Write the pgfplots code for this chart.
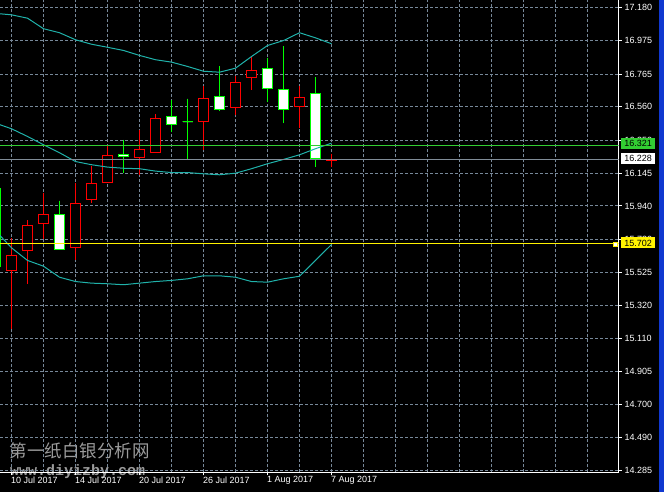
\documentclass[border=0pt]{standalone}
\usepackage{pgfplots}
\pgfplotsset{compat=1.18}
\usepgfplotslibrary{statistics}
\usepackage{fontspec}
\setmainfont{Liberation Sans}
\newfontfamily\cjk{Noto Sans CJK SC}
\newfontfamily\wmono{Liberation Mono}
\definecolor{gridc}{RGB}{119,136,153}
\definecolor{band}{RGB}{32,178,170}
\definecolor{bullc}{RGB}{255,0,0}
\definecolor{bearc}{RGB}{0,255,0}
\definecolor{lvlgreen}{RGB}{50,205,50}
\definecolor{lvlgray}{RGB}{128,140,152}
\definecolor{mtblue}{RGB}{16,56,208}
\definecolor{wm}{RGB}{155,155,155}
\pgfplotsset{
  bull/.style={draw=bullc, fill=black, line width=1pt, solid},
  bear/.style={draw=bearc, fill=white, line width=1pt, solid},
  boxplot/draw direction=y,
}
% \candle{style}{index}{low}{body low}{body high}{high}
\newcommand{\candle}[6]{%
  \addplot[#1, boxplot prepared={draw position=#2, lower whisker=#3,
    lower quartile=#4, median=#4, upper quartile=#5, upper whisker=#6,
    box extend=0.625, whisker extend=0}] coordinates {};}
\begin{document}
\begin{tikzpicture}[x=1pt,y=1pt]
\fill[black] (0,-19.5) rectangle (664,472.5);
\fill[mtblue] (659,-19.5) rectangle (664,472.5);
\node[anchor=base west, inner sep=0pt, text=wm, font=\cjk\fontsize{17.5}{18}\selectfont] at (9.5,15.3) {第一纸白银分析网};
\node[anchor=base west, inner sep=0pt, text=wm, font=\wmono\bfseries\fontsize{15}{16}\selectfont] at (10,-3.5) {www.diyizby.com};
\begin{axis}[
  at={(0,0)}, anchor=south west, scale only axis,
  width=618.5pt, height=472.5pt,
  xmin=-0.71875, xmax=37.9375, ymin=14.2720, ymax=17.2288,
  axis x line*=bottom, axis y line*=right,
  axis line style={white, line width=1pt},
  clip mode=individual,
  tick style={white, line width=1pt},
  major tick length=3pt, minor tick length=0pt, tick align=outside,
  xtick={0,4,8,12,16,20},
  xticklabels={10 Jul 2017,14 Jul 2017,20 Jul 2017,26 Jul 2017,1 Aug 2017,7 Aug 2017},
  minor xtick={2,6,10,14,18,22,24,26,28,30,32,34,36},
  ytick={14.285,14.490,14.700,14.905,15.110,15.320,15.525,15.730,15.940,16.145,16.350,16.560,16.765,16.975,17.180},
  yticklabels={14.285,14.490,14.700,14.905,15.110,15.320,15.525,15.730,15.940,16.145,16.350,16.560,16.765,16.975,17.180},
  grid=both,
  major grid style={gridc, dash pattern=on 3pt off 2pt, line width=1pt},
  minor grid style={gridc, dash pattern=on 3pt off 2pt, line width=1pt},
  tick label style={text=white, font=\fontsize{9}{10}\selectfont, inner sep=0pt},
  yticklabel style={anchor=west, xshift=3pt},
  xticklabel style={anchor=north west, xshift=-0.5pt, yshift=-1pt},
]
% candles
\candle{bear}{-1}{15.52}{15.563}{16.047}{16.09}
\candle{bull}{0}{15.173}{15.534}{15.628}{15.738}
\candle{bull}{1}{15.450}{15.659}{15.816}{15.849}
\candle{bull}{2}{15.732}{15.828}{15.885}{16.020}
\candle{bear}{3}{15.666}{15.666}{15.885}{15.974}
\candle{bull}{4}{15.603}{15.678}{15.953}{16.082}
\candle{bull}{5}{15.957}{15.979}{16.079}{16.187}
\candle{bull}{6}{16.085}{16.085}{16.254}{16.323}
\candle{bear}{7}{16.146}{16.248}{16.260}{16.354}
\candle{bull}{8}{16.135}{16.241}{16.291}{16.417}
\candle{bull}{9}{16.273}{16.273}{16.485}{16.517}
\candle{bear}{10}{16.404}{16.448}{16.498}{16.602}
\candle{bear}{11}{16.231}{16.467}{16.467}{16.612}
\candle{bull}{12}{16.289}{16.467}{16.611}{16.688}
\candle{bear}{13}{16.533}{16.542}{16.623}{16.813}
\candle{bull}{14}{16.508}{16.554}{16.711}{16.755}
\candle{bull}{15}{16.667}{16.742}{16.786}{16.878}
\candle{bear}{16}{16.592}{16.673}{16.798}{16.866}
\candle{bear}{17}{16.458}{16.542}{16.667}{16.938}
\candle{bull}{18}{16.428}{16.561}{16.617}{16.688}
\candle{bear}{19}{16.184}{16.235}{16.642}{16.744}
\candle{bull}{20}{16.184}{16.227}{16.231}{16.266}
% Bollinger bands
\addplot[band, line width=1pt] coordinates {(-1,17.145) (0,17.136) (1,17.115) (2,17.049) (3,17.024) (4,16.980) (5,16.952) (6,16.933) (7,16.913) (8,16.882) (9,16.855) (10,16.840) (11,16.813) (12,16.783) (13,16.777) (14,16.802) (15,16.875) (16,16.944) (17,16.975) (18,17.024) (19,16.992) (20,16.955)};
\addplot[band, line width=1pt] coordinates {(-1,16.458) (0,16.423) (1,16.375) (2,16.323) (3,16.273) (4,16.218) (5,16.198) (6,16.183) (7,16.176) (8,16.173) (9,16.158) (10,16.149) (11,16.149) (12,16.141) (13,16.135) (14,16.145) (15,16.173) (16,16.204) (17,16.231) (18,16.260) (19,16.298) (20,16.333)};
\addplot[band, line width=1pt] coordinates {(-1,15.785) (0,15.678) (1,15.599) (2,15.563) (3,15.494) (4,15.467) (5,15.457) (6,15.453) (7,15.447) (8,15.457) (9,15.467) (10,15.474) (11,15.484) (12,15.503) (13,15.503) (14,15.494) (15,15.467) (16,15.463) (17,15.484) (18,15.500) (19,15.599) (20,15.699)};
% level lines
\addplot[lvlgreen, line width=1pt] coordinates {(-1,16.321) (39,16.321)};
\addplot[lvlgray, line width=1pt] coordinates {(-1,16.228) (39,16.228)};
\addplot[yellow, line width=1pt] coordinates {(-1,15.702) (39,15.702)};
% price boxes
\node[fill=lvlgreen, text=black, inner sep=0pt, minimum width=34pt, minimum height=11pt, anchor=west, font=\fontsize{9}{10}\selectfont, xshift=2.5pt, yshift=1.5pt] at (axis cs:37.9375,16.321) {16.321};
\node[fill=white, text=black, inner sep=0pt, minimum width=34pt, minimum height=11pt, anchor=west, font=\fontsize{9}{10}\selectfont, xshift=2.5pt, yshift=1.5pt] at (axis cs:37.9375,16.228) {16.228};
\node[fill=yellow, text=black, inner sep=0pt, minimum width=34pt, minimum height=11pt, anchor=west, font=\fontsize{9}{10}\selectfont, xshift=2.5pt, yshift=1pt] at (axis cs:37.9375,15.702) {15.702};
\node[fill=white, draw=yellow, line width=0.5pt, inner sep=0pt, minimum size=4pt, xshift=-3pt] at (axis cs:37.9375,15.702) {};
\end{axis}
\pgfresetboundingbox
\path (0,-19.5) rectangle (664,472.5);
\end{tikzpicture}
\end{document}
